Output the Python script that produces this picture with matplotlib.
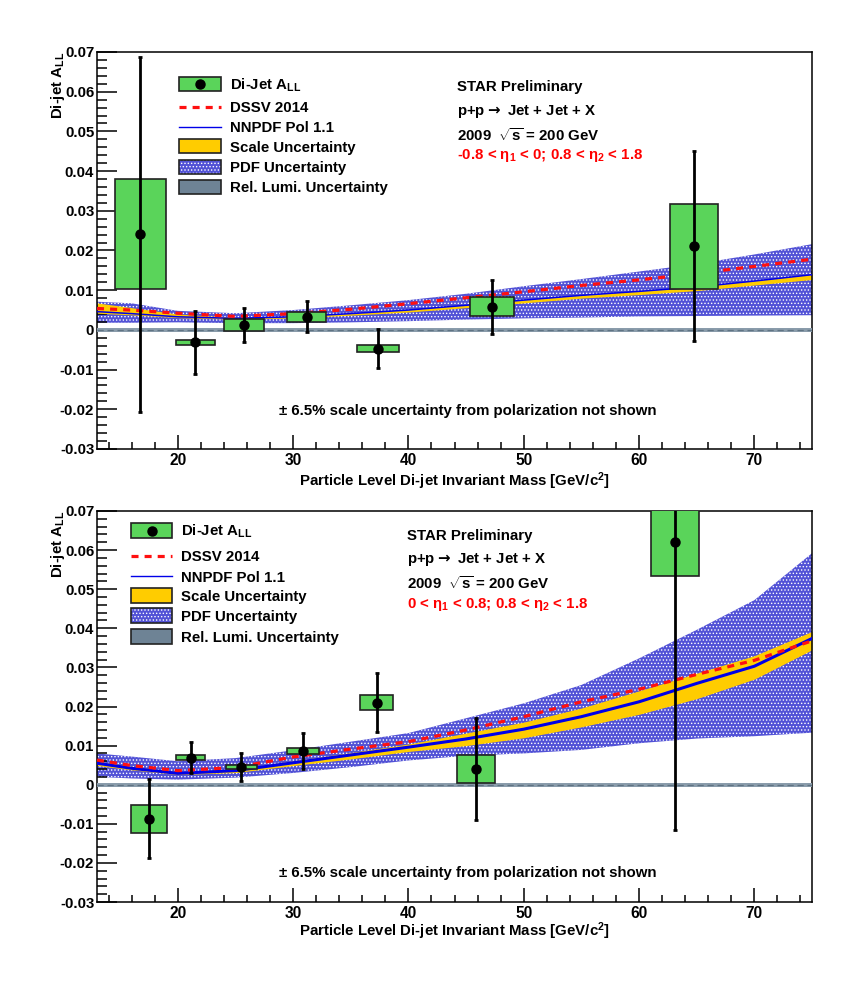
import numpy as np
import matplotlib
matplotlib.use("Agg")
import matplotlib.pyplot as plt
from matplotlib.patches import Rectangle
from matplotlib.ticker import FixedLocator, MultipleLocator, FuncFormatter

# ---- measured di-jet A_LL, upper panel (-0.8 < eta1 < 0) ----
mass_top = [16.74, 21.52, 25.75, 31.17, 37.40, 47.26, 64.77]
all_top = [0.0241, -0.0031, 0.0012, 0.0033, -0.0047, 0.0058, 0.0211]
stat_top = [0.0447, 0.0079, 0.0042, 0.0039, 0.0050, 0.0068, 0.0239]
sys_top = [0.0138, 0.0006, 0.0015, 0.0013, 0.0008, 0.0024, 0.0107]
msys_top = [2.20, 1.68, 1.70, 1.70, 1.83, 1.93, 2.08]

# ---- measured di-jet A_LL, lower panel (0 < eta1 < 0.8) ----
mass_bot = [17.52, 21.11, 25.52, 30.88, 37.26, 45.87, 63.11]
all_bot = [-0.0087, 0.0069, 0.0045, 0.0086, 0.0210, 0.0040, 0.0621]
stat_bot = [0.0101, 0.0040, 0.0036, 0.0046, 0.0076, 0.0130, 0.0737]
sys_bot = [0.0036, 0.0006, 0.0005, 0.0007, 0.0020, 0.0035, 0.0088]
msys_bot = [1.54, 1.28, 1.34, 1.39, 1.45, 1.68, 2.05]

# ---- theory curves ----
th_mass = [13, 16, 20, 25, 30, 35, 40, 45, 50, 55, 60, 65, 70, 75]

dssv_top = [0.0054, 0.0050, 0.0042, 0.0034, 0.0041, 0.0052, 0.0066, 0.0081,
            0.0096, 0.0112, 0.0126, 0.0142, 0.0160, 0.0178]
nnpdf_top = [0.0046, 0.0041, 0.0033, 0.0029, 0.0033, 0.0041, 0.0050, 0.0062,
             0.0075, 0.0087, 0.0097, 0.0108, 0.0123, 0.0139]
scale_lo_top = [0.0042, 0.0038, 0.0031, 0.0027, 0.0030, 0.0037, 0.0045, 0.0056,
                0.0068, 0.0080, 0.0089, 0.0099, 0.0113, 0.0127]
scale_hi_top = [0.0068, 0.0056, 0.0040, 0.0031, 0.0034, 0.0042, 0.0051, 0.0063,
                0.0076, 0.0088, 0.0098, 0.0109, 0.0124, 0.0140]
pdf_lo_top = [0.0018, 0.0018, 0.0019, 0.0017, 0.0017, 0.0019, 0.0022, 0.0026,
              0.0029, 0.0031, 0.0034, 0.0035, 0.0036, 0.0037]
pdf_hi_top = [0.0071, 0.0067, 0.0048, 0.0042, 0.0050, 0.0062, 0.0075, 0.0091,
              0.0110, 0.0128, 0.0147, 0.0166, 0.0190, 0.0216]

dssv_bot = [0.0063, 0.0049, 0.0036, 0.0044, 0.0071, 0.0091, 0.0110, 0.0140,
            0.0174, 0.0212, 0.0244, 0.0282, 0.0318, 0.0368]
nnpdf_bot = [0.0055, 0.0042, 0.0029, 0.0036, 0.0056, 0.0076, 0.0096, 0.0117,
             0.0142, 0.0174, 0.0212, 0.0259, 0.0303, 0.0374]
scale_lo_bot = [0.0049, 0.0038, 0.0026, 0.0031, 0.0049, 0.0066, 0.0085, 0.0100,
                0.0120, 0.0148, 0.0180, 0.0220, 0.0270, 0.0345]
scale_hi_bot = [0.0060, 0.0047, 0.0033, 0.0040, 0.0061, 0.0082, 0.0104, 0.0132,
                0.0160, 0.0196, 0.0240, 0.0285, 0.0330, 0.0392]
pdf_lo_bot = [0.0020, 0.0016, 0.0013, 0.0018, 0.0030, 0.0045, 0.0062, 0.0074,
              0.0080, 0.0089, 0.0106, 0.0118, 0.0124, 0.0133]
pdf_hi_bot = [0.0080, 0.0072, 0.0060, 0.0068, 0.0088, 0.0110, 0.0132, 0.0170,
              0.0208, 0.0255, 0.0323, 0.0396, 0.0472, 0.0592]

# relative luminosity band
lumi_mass = [13, 75]
lumi_unc = [0.0005, 0.0005]

y_ticks = [-0.03, -0.02, -0.01, 0.0, 0.01, 0.02, 0.03, 0.04, 0.05, 0.06, 0.07]
x_ticks = [20, 30, 40, 50, 60, 70]

legend_labels = ["Di-Jet A$_{LL}$", "DSSV 2014", "NNPDF Pol 1.1",
                 "Scale Uncertainty", "PDF Uncertainty", "Rel. Lumi. Uncertainty"]
info_top = ["STAR Preliminary", "p+p$\\rightarrow$ Jet + Jet + X", "2009  $\\sqrt{s}$ = 200 GeV",
            "-0.8 < \u03b7$_{1}$ < 0; 0.8 < \u03b7$_{2}$ < 1.8"]
info_bot = ["STAR Preliminary", "p+p$\\rightarrow$ Jet + Jet + X", "2009  $\\sqrt{s}$ = 200 GeV",
            "0 < \u03b7$_{1}$ < 0.8; 0.8 < \u03b7$_{2}$ < 1.8"]

GREEN = '#5ad45a'
GOLD = '#ffcc00'
PDFBLUE = '#5252d6'
LUMI = '#6e8395'
RED = '#ff1010'
BLUE = '#0000e8'
FS = 10.8

plt.rcParams['font.family'] = ['Liberation Sans', 'DejaVu Sans']
plt.rcParams['font.weight'] = 'bold'
plt.rcParams['mathtext.fontset'] = 'custom'
plt.rcParams['mathtext.rm'] = 'Liberation Sans:bold'
plt.rcParams['mathtext.it'] = 'Liberation Sans:bold'
plt.rcParams['mathtext.bf'] = 'Liberation Sans:bold'
plt.rcParams['mathtext.default'] = 'rm'
plt.rcParams['hatch.linewidth'] = 0.6
plt.rcParams['axes.unicode_minus'] = False

W, H = 855, 997
fig = plt.figure(figsize=(W / 100, H / 100), dpi=100)


def ftext(x, y, s, **kw):
    # place text at pixel position (origin top-left)
    return fig.text(x / W, 1 - y / H, s, fontsize=kw.pop('fontsize', FS),
                    fontweight='bold', **kw)


def make_axes(left, top, right, bottom):
    return fig.add_axes([left / W, 1 - bottom / H, (right - left) / W, (bottom - top) / H])


def draw_panel(ax, mass, asym, stat, syst, msys, dssv, nnpdf, slo, shi, plo, phi, blue_lw):
    ax.fill_between(th_mass, plo, phi, facecolor=PDFBLUE, edgecolor='white',
                    hatch='.....', linewidth=0, zorder=1)
    ax.fill_between(th_mass, slo, shi, color=GOLD, linewidth=0, zorder=2)
    ax.plot(th_mass, nnpdf, color=BLUE, lw=blue_lw, zorder=3)
    ax.plot(th_mass, dssv, color=RED, lw=2.3, ls=(0, (2.2, 1.9)), zorder=4)
    lo = [-u for u in lumi_unc]
    ax.fill_between(lumi_mass, lo, lumi_unc, color='#8a9cab', linewidth=0, zorder=4)
    ax.axhline(0, color='#5f7383', lw=0.9, ls=(0, (5, 3)), zorder=4)

    m = np.array(mass)
    a = np.array(asym)
    s = np.array(syst)
    ax.bar(m, 2 * s, bottom=a - s, width=2 * np.array(msys), color=GREEN,
           edgecolor='#222222', linewidth=1.2, zorder=5)
    ax.errorbar(m, a, yerr=stat, fmt='o', color='black', ms=6.5, lw=2,
                capsize=1.6, capthick=2, zorder=6)

    ax.set_xlim(13, 75)
    ax.set_ylim(-0.03, 0.07)
    ax.xaxis.set_major_locator(FixedLocator(x_ticks))
    ax.xaxis.set_minor_locator(MultipleLocator(2))
    ax.yaxis.set_major_locator(FixedLocator(y_ticks))
    ax.yaxis.set_minor_locator(MultipleLocator(0.002))
    ax.yaxis.set_major_formatter(FuncFormatter(lambda v, p: '0' if abs(v) < 1e-9 else f'{v:.2f}'))
    ax.tick_params(axis='x', which='major', direction='in', length=10, width=1.1,
                   pad=3, labelsize=11.2, top=False)
    ax.tick_params(axis='x', which='minor', direction='in', length=5, width=1.1, top=False)
    ax.tick_params(axis='y', which='major', direction='in', length=14.5, width=1.1,
                   pad=2, labelsize=FS, right=False)
    ax.tick_params(axis='y', which='minor', direction='in', length=7.2, width=1.1, right=False)
    for lab in ax.get_xticklabels() + ax.get_yticklabels():
        lab.set_fontweight('bold')
    for sp in ax.spines.values():
        sp.set_linewidth(1.1)


def draw_legend(ax, bx0, bx1, tx, baselines, bh):
    # legend drawn in pixel coordinates on the figure
    tr = fig.transFigure
    for i, (lab, yb) in enumerate(zip(legend_labels, baselines)):
        yc = yb - 5.3
        x0, x1 = bx0 / W, bx1 / W
        y0, y1 = 1 - (yc + bh / 2) / H, 1 - (yc - bh / 2) / H
        if i == 0:
            fig.patches.append(Rectangle((x0, y0), x1 - x0, y1 - y0, transform=tr,
                                         facecolor=GREEN, edgecolor='#222222', lw=1.2))
            fig.lines.append(plt.Line2D([(x0 + x1) / 2], [1 - yc / H], transform=tr,
                                        marker='o', color='black', ms=6.5))
        elif i == 1:
            fig.lines.append(plt.Line2D([x0, x1], [1 - yc / H] * 2, transform=tr,
                                        color=RED, lw=2.3, ls=(0, (2.2, 1.9))))
        elif i == 2:
            fig.lines.append(plt.Line2D([x0, x1], [1 - yc / H] * 2, transform=tr,
                                        color=BLUE, lw=1.0))
        elif i == 3:
            fig.patches.append(Rectangle((x0, y0), x1 - x0, y1 - y0, transform=tr,
                                         facecolor=GOLD, edgecolor='#222222', lw=1.2))
        elif i == 4:
            fig.patches.append(Rectangle((x0, y0), x1 - x0, y1 - y0, transform=tr,
                                         facecolor=PDFBLUE, edgecolor='white',
                                         hatch='.....', lw=0))
            fig.patches.append(Rectangle((x0, y0), x1 - x0, y1 - y0, transform=tr,
                                         facecolor='none', edgecolor='#222222', lw=1.2))
        else:
            fig.patches.append(Rectangle((x0, y0), x1 - x0, y1 - y0, transform=tr,
                                         facecolor=LUMI, edgecolor='#222222', lw=1.2))
        ftext(tx, yb, lab, va='baseline', ha='left')


ax1 = make_axes(97, 52, 812, 449)
ax2 = make_axes(97, 511, 812, 902)

draw_panel(ax1, mass_top, all_top, stat_top, sys_top, msys_top, dssv_top, nnpdf_top,
           scale_lo_top, scale_hi_top, pdf_lo_top, pdf_hi_top, 1.1)
draw_panel(ax2, mass_bot, all_bot, stat_bot, sys_bot, msys_bot, dssv_bot, nnpdf_bot,
           scale_lo_bot, scale_hi_bot, pdf_lo_bot, pdf_hi_bot, 2.2)

draw_legend(ax1, 179, 221, 230, [89.3, 112.3, 132.3, 151.7, 172.3, 192.3], 14)
draw_legend(ax2, 131, 172, 181, [536, 561, 581.7, 600.7, 620.7, 641.7], 15)

for i, (txt, yb, col) in enumerate(zip(info_top, [90.7, 115, 140.7, 159.3], ['k', 'k', 'k', 'red'])):
    t = ftext(456.7, yb, txt, va='baseline', ha='left', color=col)
    if i == 1:
        t.set_math_fontfamily('dejavusans')
for i, (txt, yb, col) in enumerate(zip(info_bot, [540, 563.3, 589, 608.3], ['k', 'k', 'k', 'red'])):
    t = ftext(407, yb, txt, va='baseline', ha='left', color=col)
    if i == 1:
        t.set_math_fontfamily('dejavusans')

note = "\u00b1 6.5% scale uncertainty from polarization not shown"
ftext(468, 415, note, va='baseline', ha='center')
ftext(468, 877, note, va='baseline', ha='center')

xlab = "Particle Level Di-jet Invariant Mass [GeV/c$^{2}$]"
ftext(454.5, 486, xlab, va='baseline', ha='center')
ftext(454.5, 936, xlab, va='baseline', ha='center')

ftext(58, 52, "Di-jet A$_{LL}$", rotation=90, ha='center', va='top')
ftext(58, 511, "Di-jet A$_{LL}$", rotation=90, ha='center', va='top')

fig.savefig("out.png", dpi=100, facecolor='white')
